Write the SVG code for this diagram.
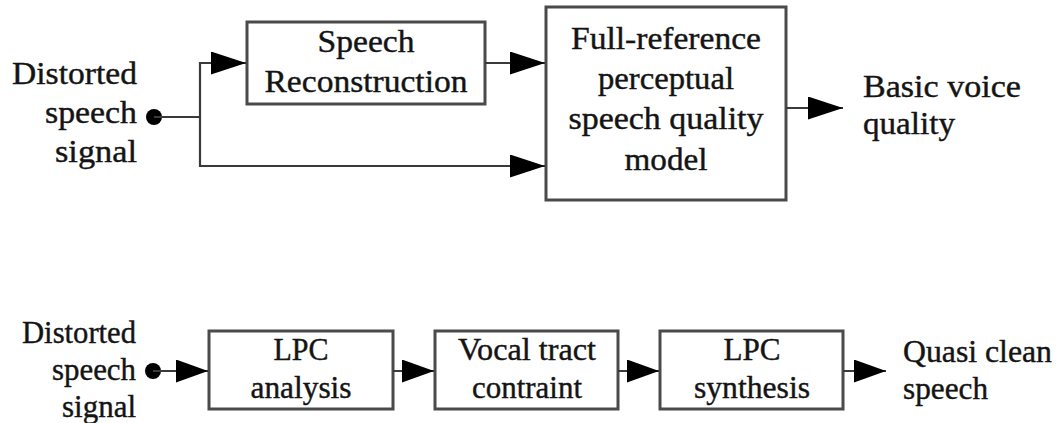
<svg xmlns="http://www.w3.org/2000/svg" width="1056" height="423" viewBox="0 0 1056 423">
  <style>
    .box { fill: #ffffff; stroke: #4a4a4a; stroke-width: 3; }
    .wire { fill: none; stroke: #3a3a3a; stroke-width: 2.2; }
    .lbl { font-family: 'Liberation Serif', 'Times New Roman', serif; font-size: 31px; fill: #141414; stroke: #141414; stroke-width: 0.4; }
    .mid { text-anchor: middle; }
    .end { text-anchor: end; }
    .dot { fill: #000000; }
  </style>
  <defs>
    <!-- solid triangular heads, sized in user units -->
    <marker id="headL" markerUnits="userSpaceOnUse" markerWidth="36" markerHeight="24" refX="35" refY="11.5" orient="auto">
      <polygon points="0,0 35,11.5 0,23" fill="#000000"/>
    </marker>
    <marker id="headS" markerUnits="userSpaceOnUse" markerWidth="34" markerHeight="24" refX="32" refY="11.5" orient="auto">
      <polygon points="0,0 32,11.5 0,23" fill="#000000"/>
    </marker>
  </defs>

  <rect width="1056" height="423" fill="#ffffff"/>

  <!-- upper chain: reconstruction feeding a full-reference model -->
  <g id="in-top">
    <text class="lbl end" x="137" y="84" textLength="125" lengthAdjust="spacingAndGlyphs">Distorted</text>
    <text class="lbl end" x="137" y="123" textLength="92" lengthAdjust="spacingAndGlyphs">speech</text>
    <text class="lbl end" x="137" y="162" textLength="82" lengthAdjust="spacingAndGlyphs">signal</text>
    <circle class="dot" cx="154" cy="117" r="8"/>
  </g>

  <g id="speech-reconstruction">
    <rect class="box" x="247" y="22" width="238" height="82"/>
    <text class="lbl mid" x="366" y="52" textLength="97" lengthAdjust="spacingAndGlyphs">Speech</text>
    <text class="lbl mid" x="366" y="92" textLength="203" lengthAdjust="spacingAndGlyphs">Reconstruction</text>
  </g>

  <g id="fr-model">
    <rect class="box" x="546" y="7" width="240" height="193"/>
    <text class="lbl mid" x="666" y="49" textLength="190" lengthAdjust="spacingAndGlyphs">Full-reference</text>
    <text class="lbl mid" x="666" y="89" textLength="136" lengthAdjust="spacingAndGlyphs">perceptual</text>
    <text class="lbl mid" x="666" y="129" textLength="195" lengthAdjust="spacingAndGlyphs">speech quality</text>
    <text class="lbl mid" x="666" y="170" textLength="83" lengthAdjust="spacingAndGlyphs">model</text>
  </g>

  <g id="out-top">
    <text class="lbl" x="863" y="97" textLength="158" lengthAdjust="spacingAndGlyphs">Basic voice</text>
    <text class="lbl" x="863" y="134" textLength="92" lengthAdjust="spacingAndGlyphs">quality</text>
  </g>

  <!-- lower chain: LPC analysis / constraint / synthesis -->
  <g id="in-bottom">
    <text class="lbl end" x="136" y="343" textLength="114" lengthAdjust="spacingAndGlyphs">Distorted</text>
    <text class="lbl end" x="136" y="380" textLength="84" lengthAdjust="spacingAndGlyphs">speech</text>
    <text class="lbl end" x="136" y="417" textLength="74" lengthAdjust="spacingAndGlyphs">signal</text>
    <circle class="dot" cx="153" cy="371" r="8"/>
  </g>

  <g id="lpc-analysis">
    <rect class="box" x="209" y="331" width="184" height="78"/>
    <text class="lbl mid" x="301" y="360" textLength="55" lengthAdjust="spacingAndGlyphs">LPC</text>
    <text class="lbl mid" x="301" y="398" textLength="101" lengthAdjust="spacingAndGlyphs">analysis</text>
  </g>

  <g id="vocal-tract">
    <rect class="box" x="435" y="331" width="183" height="78"/>
    <text class="lbl mid" x="527" y="360" textLength="138" lengthAdjust="spacingAndGlyphs">Vocal tract</text>
    <text class="lbl mid" x="527" y="398" textLength="110" lengthAdjust="spacingAndGlyphs">contraint</text>
  </g>

  <g id="lpc-synthesis">
    <rect class="box" x="660" y="331" width="183" height="78"/>
    <text class="lbl mid" x="752" y="360" textLength="57" lengthAdjust="spacingAndGlyphs">LPC</text>
    <text class="lbl mid" x="752" y="398" textLength="116" lengthAdjust="spacingAndGlyphs">synthesis</text>
  </g>

  <g id="out-bottom">
    <text class="lbl" x="903" y="362" textLength="149" lengthAdjust="spacingAndGlyphs">Quasi clean</text>
    <text class="lbl" x="903" y="399" textLength="85" lengthAdjust="spacingAndGlyphs">speech</text>
  </g>

  <g id="connectors">
    <path class="wire" d="M154,117 H200"/>
    <path class="wire" d="M200,62 V167"/>
    <path class="wire" d="M199,63 H246" marker-end="url(#headL)"/>
    <path class="wire" d="M199,166 H545" marker-end="url(#headL)"/>
    <path class="wire" d="M485,63 H545" marker-end="url(#headL)"/>
    <path class="wire" d="M786,108 H843" marker-end="url(#headL)"/>

    <path class="wire" d="M153,371 H208" marker-end="url(#headS)"/>
    <path class="wire" d="M393,371 H434" marker-end="url(#headS)"/>
    <path class="wire" d="M618,371 H659" marker-end="url(#headS)"/>
    <path class="wire" d="M843,371 H886" marker-end="url(#headS)"/>
  </g>
</svg>
